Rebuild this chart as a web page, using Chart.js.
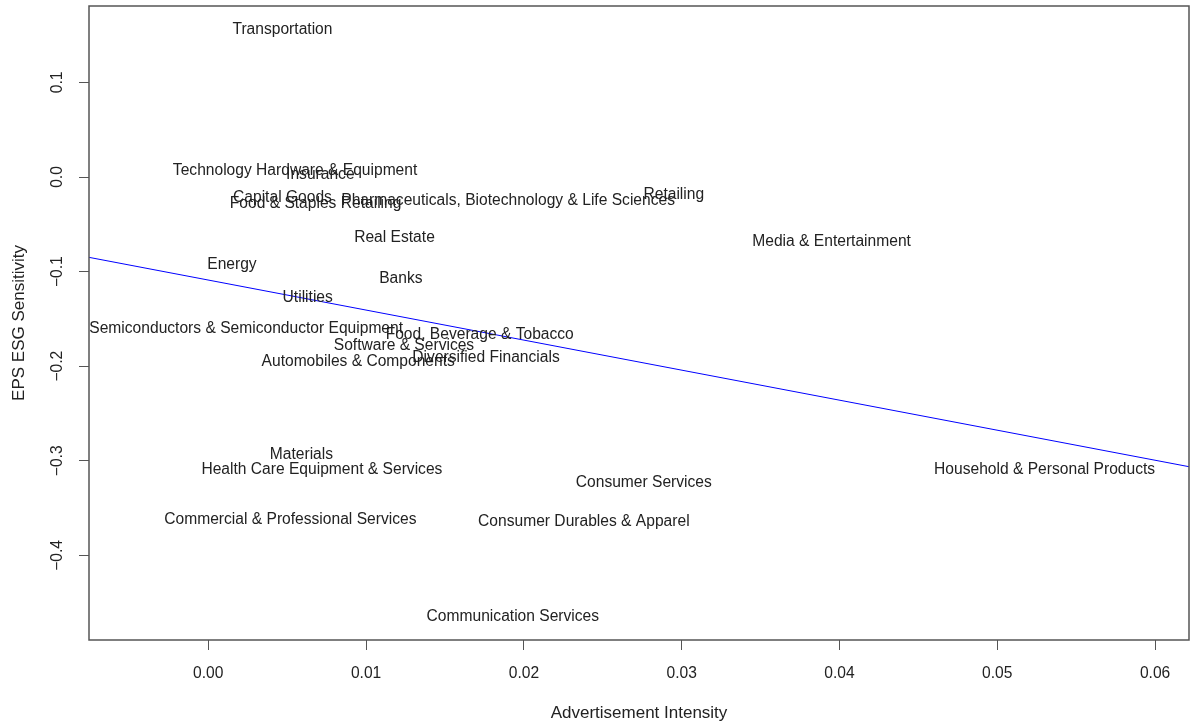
<!DOCTYPE html>
<html>
<head>
<meta charset="utf-8">
<script src="https://cdn.jsdelivr.net/npm/chart.js@4.4.1/dist/chart.umd.min.js"></script>
<style>
  html, body { margin: 0; padding: 0; background: #fff; }
  #wrap { width: 1190px; height: 725px; }
</style>
</head>
<body>
<div id="wrap"><canvas id="myChart" width="1190" height="725"></canvas></div>
<script>
// industry groups, one label per point
const industries = [
    'Transportation', 'Technology Hardware & Equipment', 'Insurance', 'Capital Goods',
    'Food & Staples Retailing', 'Pharmaceuticals, Biotechnology & Life Sciences', 'Retailing',
    'Media & Entertainment', 'Real Estate', 'Energy', 'Banks', 'Utilities',
    'Semiconductors & Semiconductor Equipment', 'Food, Beverage & Tobacco', 'Software & Services',
    'Diversified Financials', 'Automobiles & Components', 'Materials',
    'Health Care Equipment & Services', 'Consumer Services', 'Household & Personal Products',
    'Commercial & Professional Services', 'Consumer Durables & Apparel', 'Communication Services'
];
const adIntensity = [
    0.0047, 0.0055, 0.0071, 0.0047,
    0.0068, 0.0190, 0.0295,
    0.0395, 0.0118, 0.0015, 0.0122, 0.0063,
    0.0024, 0.0172, 0.0124,
    0.0176, 0.0095, 0.0059,
    0.0072, 0.0276, 0.0530,
    0.0052, 0.0238, 0.0193
];
const epsSensitivity = [
    0.156, 0.0067, 0.0021, -0.0215,
    -0.0285, -0.025, -0.019,
    -0.0684, -0.0638, -0.093, -0.1071, -0.1272,
    -0.160, -0.167, -0.1786,
    -0.1906, -0.1952, -0.2939,
    -0.3097, -0.3235, -0.3097,
    -0.3626, -0.3647, -0.4648
];
// fitted line, read at the plot edges
const fitX = [-0.00756, 0.06215];
const fitY = [-0.0849, -0.3062];

const xTicks = [0, 0.01, 0.02, 0.03, 0.04, 0.05, 0.06];
const yTicks = [-0.4, -0.3, -0.2, -0.1, 0.0, 0.1];

const FONT = '"Liberation Sans", Arial, sans-serif';
const FSIZE = 15.6;
const TSIZE = 17;
const INK = '#222222';
const AXIS = '#555555';

function fmtY(v) {
    let s = Math.abs(v).toFixed(1);
    return (v < -1e-9 ? '\u2212' : '') + s;
}

const labelPlugin = {
    id: 'pointLabels',
    afterDatasetsDraw(chart) {
        const ctx = chart.ctx;
        const a = chart.chartArea;
        const meta = chart.getDatasetMeta(0);
        ctx.save();
        ctx.beginPath();
        ctx.rect(a.left, a.top, a.right - a.left, a.bottom - a.top);
        ctx.clip();
        ctx.font = FSIZE + 'px ' + FONT;
        ctx.fillStyle = INK;
        ctx.textAlign = 'center';
        ctx.textBaseline = 'middle';
        meta.data.forEach(function (pt, i) {
            ctx.fillText(industries[i], pt.x, pt.y);
        });
        ctx.restore();
    },
    afterDraw(chart) {
        const ctx = chart.ctx;
        const a = chart.chartArea;
        const ys = chart.scales.y;
        ctx.save();
        ctx.strokeStyle = AXIS;
        ctx.lineWidth = 1.5;
        ctx.strokeRect(a.left, a.top, a.right - a.left, a.bottom - a.top);
        // y tick labels, rotated and centred on their ticks like R's axis()
        ctx.font = FSIZE + 'px ' + FONT;
        ctx.fillStyle = INK;
        ctx.textAlign = 'center';
        ctx.textBaseline = 'middle';
        yTicks.forEach(function (v) {
            const py = ys.getPixelForValue(v);
            ctx.save();
            ctx.translate(a.left - 31, py);
            ctx.rotate(-Math.PI / 2);
            ctx.fillText(fmtY(v), 0, 0);
            ctx.restore();
        });
        ctx.restore();
    }
};

function drawGraph() {
    let ctx = document.getElementById('myChart');
    new Chart(ctx, {
        type: 'scatter',
        data: {
            datasets: [{
                label: 'industries',
                data: adIntensity.map(function (x, i) { return {x: x, y: epsSensitivity[i]}; }),
                pointRadius: 0,
                pointHoverRadius: 0,
                showLine: false
            }, {
                label: 'fit',
                type: 'line',
                data: fitX.map(function (x, i) { return {x: x, y: fitY[i]}; }),
                borderColor: '#0000ff',
                borderWidth: 1,
                pointRadius: 0,
                fill: false
            }]
        },
        options: {
            responsive: false,
            animation: false,
            events: [],
            layout: { padding: { top: 6, right: 1, left: 0, bottom: 0 } },
            plugins: { legend: { display: false }, tooltip: { enabled: false } },
            scales: {
                x: {
                    type: 'linear',
                    min: fitX[0],
                    max: fitX[1],
                    afterBuildTicks: function (s) { s.ticks = xTicks.map(function (v) { return {value: v}; }); },
                    afterFit: function (s) { s.height = 85; s.paddingLeft = 0; s.paddingRight = 0; },
                    grid: { drawOnChartArea: false, tickLength: 10, color: AXIS, tickWidth: 1 },
                    border: { display: false },
                    ticks: {
                        color: INK,
                        font: { family: FONT, size: FSIZE },
                        padding: 14,
                        maxRotation: 0,
                        autoSkip: false,
                        callback: function (v) { return v.toFixed(2); }
                    },
                    title: {
                        display: true,
                        text: 'Advertisement Intensity',
                        color: INK,
                        font: { family: FONT, size: TSIZE },
                        padding: { top: 14, bottom: 1 }
                    }
                },
                y: {
                    type: 'linear',
                    min: -0.4894,
                    max: 0.1808,
                    afterBuildTicks: function (s) { s.ticks = yTicks.map(function (v) { return {value: v}; }); },
                    afterFit: function (s) { s.width = 89; s.paddingTop = 0; s.paddingBottom = 0; },
                    grid: { drawOnChartArea: false, tickLength: 10, color: AXIS, tickWidth: 1 },
                    border: { display: false },
                    ticks: {
                        display: false,
                        autoSkip: false
                    },
                    title: {
                        display: true,
                        text: 'EPS ESG Sensitivity',
                        color: INK,
                        font: { family: FONT, size: TSIZE },
                        padding: { top: 9, bottom: 14 }
                    }
                }
            }
        },
        plugins: [labelPlugin]
    });
}

drawGraph();
</script>
</body>
</html>
